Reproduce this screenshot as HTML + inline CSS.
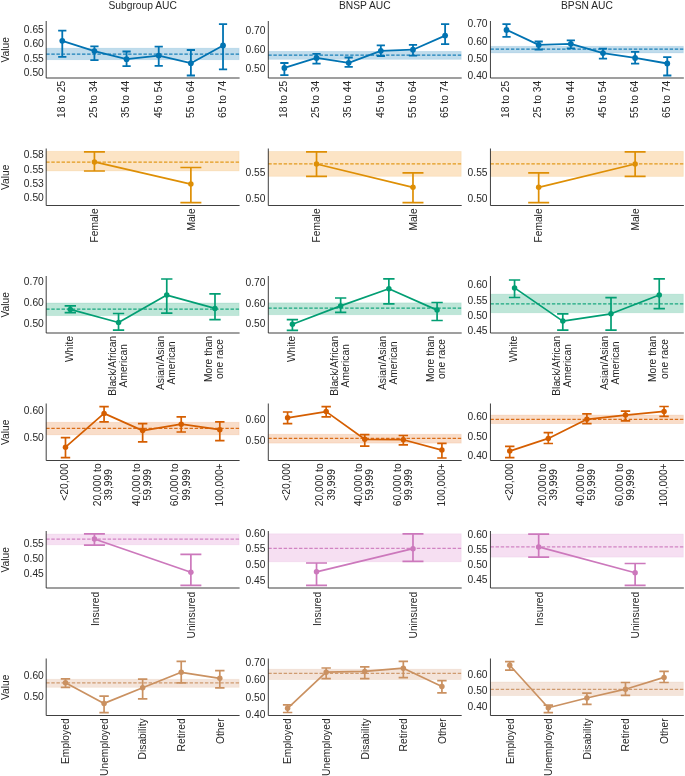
<!DOCTYPE html>
<html><head><meta charset="utf-8"><style>
html,body{margin:0;padding:0;background:#fff;}
svg{display:block;will-change:transform;}
.t{font-family:"Liberation Sans",sans-serif;font-size:10.25px;fill:#262626;}
</style></head><body>
<svg width="685" height="776" viewBox="0 0 685 776">
<text transform="translate(142.65,8.8)" text-anchor="middle" class="t">Subgroup AUC</text>
<text transform="translate(364.75,8.8)" text-anchor="middle" class="t">BNSP AUC</text>
<text transform="translate(586.9,8.8)" text-anchor="middle" class="t">BPSN AUC</text>
<text transform="translate(9,49.75) rotate(-90)" text-anchor="middle" class="t">Value</text>
<rect x="46.2" y="48.2" width="192.9" height="11.5" fill="rgb(192,220,236)" stroke="#0173b2" stroke-opacity="0.12" stroke-width="0.9"/>
<line x1="46.2" y1="54.05" x2="239.1" y2="54.05" stroke="#0173b2" stroke-opacity="0.88" stroke-width="1.25" stroke-dasharray="3.42 1.7"/>
<path d="M62.28 30.6V56.9M59.06 30.6H65.49M59.06 56.9H65.49M94.42 46.4V60.1M91.21 46.4H97.64M91.21 60.1H97.64M126.58 51.5V66.1M123.36 51.5H129.79M123.36 66.1H129.79M158.72 46.6V65.9M155.51 46.6H161.94M155.51 65.9H161.94M190.88 50V75.5M187.66 50H194.09M187.66 75.5H194.09M223.02 24.2V69.3M219.81 24.2H226.24M219.81 69.3H226.24" stroke="#0173b2" stroke-width="1.8" fill="none" stroke-linecap="square"/>
<polyline points="62.28,40.8 94.42,51.1 126.58,59.2 158.72,55.6 190.88,63.2 223.02,45.5" stroke="#0173b2" stroke-width="1.8" fill="none" stroke-linejoin="round"/>
<circle cx="62.28" cy="40.8" r="2.9" fill="#0173b2"/>
<circle cx="94.42" cy="51.1" r="2.9" fill="#0173b2"/>
<circle cx="126.58" cy="59.2" r="2.9" fill="#0173b2"/>
<circle cx="158.72" cy="55.6" r="2.9" fill="#0173b2"/>
<circle cx="190.88" cy="63.2" r="2.9" fill="#0173b2"/>
<circle cx="223.02" cy="45.5" r="2.9" fill="#0173b2"/>
<path d="M46.2 21.5V78H239.1" stroke="#262626" stroke-width="0.88" fill="none" stroke-linecap="square"/>
<text transform="translate(43.8,32.5)" text-anchor="end" class="t">0.65</text>
<text transform="translate(43.8,47)" text-anchor="end" class="t">0.60</text>
<text transform="translate(43.8,61.7)" text-anchor="end" class="t">0.55</text>
<text transform="translate(43.8,76.4)" text-anchor="end" class="t">0.50</text>
<text transform="translate(65.08,99.42) rotate(-90)" text-anchor="middle" class="t">18 to 25</text>
<text transform="translate(97.22,99.42) rotate(-90)" text-anchor="middle" class="t">25 to 34</text>
<text transform="translate(129.38,99.42) rotate(-90)" text-anchor="middle" class="t">35 to 44</text>
<text transform="translate(161.53,99.42) rotate(-90)" text-anchor="middle" class="t">45 to 54</text>
<text transform="translate(193.68,99.42) rotate(-90)" text-anchor="middle" class="t">55 to 64</text>
<text transform="translate(225.82,99.42) rotate(-90)" text-anchor="middle" class="t">65 to 74</text>
<rect x="268.3" y="51.4" width="192.9" height="7.9" fill="rgb(192,220,236)" stroke="#0173b2" stroke-opacity="0.12" stroke-width="0.9"/>
<line x1="268.3" y1="55" x2="461.2" y2="55" stroke="#0173b2" stroke-opacity="0.88" stroke-width="1.25" stroke-dasharray="3.42 1.7"/>
<path d="M284.38 63V75.2M281.16 63H287.59M281.16 75.2H287.59M316.52 53.8V63.7M313.31 53.8H319.74M313.31 63.7H319.74M348.68 57.5V66.8M345.46 57.5H351.89M345.46 66.8H351.89M380.82 45.4V56M377.61 45.4H384.04M377.61 56H384.04M412.98 44.9V55.6M409.76 44.9H416.19M409.76 55.6H416.19M445.12 24.2V44.2M441.91 24.2H448.34M441.91 44.2H448.34" stroke="#0173b2" stroke-width="1.8" fill="none" stroke-linecap="square"/>
<polyline points="284.38,67.9 316.52,57.9 348.68,62.8 380.82,50.8 412.98,49.7 445.12,35.6" stroke="#0173b2" stroke-width="1.8" fill="none" stroke-linejoin="round"/>
<circle cx="284.38" cy="67.9" r="2.9" fill="#0173b2"/>
<circle cx="316.52" cy="57.9" r="2.9" fill="#0173b2"/>
<circle cx="348.68" cy="62.8" r="2.9" fill="#0173b2"/>
<circle cx="380.82" cy="50.8" r="2.9" fill="#0173b2"/>
<circle cx="412.98" cy="49.7" r="2.9" fill="#0173b2"/>
<circle cx="445.12" cy="35.6" r="2.9" fill="#0173b2"/>
<path d="M268.3 21.5V78H461.2" stroke="#262626" stroke-width="0.88" fill="none" stroke-linecap="square"/>
<text transform="translate(265.4,34.2)" text-anchor="end" class="t">0.70</text>
<text transform="translate(265.4,52.7)" text-anchor="end" class="t">0.60</text>
<text transform="translate(265.4,71.7)" text-anchor="end" class="t">0.50</text>
<text transform="translate(287.18,99.42) rotate(-90)" text-anchor="middle" class="t">18 to 25</text>
<text transform="translate(319.32,99.42) rotate(-90)" text-anchor="middle" class="t">25 to 34</text>
<text transform="translate(351.48,99.42) rotate(-90)" text-anchor="middle" class="t">35 to 44</text>
<text transform="translate(383.62,99.42) rotate(-90)" text-anchor="middle" class="t">45 to 54</text>
<text transform="translate(415.78,99.42) rotate(-90)" text-anchor="middle" class="t">55 to 64</text>
<text transform="translate(447.93,99.42) rotate(-90)" text-anchor="middle" class="t">65 to 74</text>
<rect x="490.45" y="46.3" width="192.9" height="6.6" fill="rgb(192,220,236)" stroke="#0173b2" stroke-opacity="0.12" stroke-width="0.9"/>
<line x1="490.45" y1="49.1" x2="683.35" y2="49.1" stroke="#0173b2" stroke-opacity="0.88" stroke-width="1.25" stroke-dasharray="3.42 1.7"/>
<path d="M506.52 24.2V36.9M503.31 24.2H509.74M503.31 36.9H509.74M538.67 41.5V49.5M535.46 41.5H541.89M535.46 49.5H541.89M570.83 40.3V48.3M567.61 40.3H574.04M567.61 48.3H574.04M602.98 48.7V58.7M599.76 48.7H606.19M599.76 58.7H606.19M635.12 51.9V63.7M631.91 51.9H638.34M631.91 63.7H638.34M667.27 57.1V75.5M664.06 57.1H670.49M664.06 75.5H670.49" stroke="#0173b2" stroke-width="1.8" fill="none" stroke-linecap="square"/>
<polyline points="506.52,29.9 538.67,44.9 570.83,43.8 602.98,53.1 635.12,57.9 667.27,63.5" stroke="#0173b2" stroke-width="1.8" fill="none" stroke-linejoin="round"/>
<circle cx="506.52" cy="29.9" r="2.9" fill="#0173b2"/>
<circle cx="538.67" cy="44.9" r="2.9" fill="#0173b2"/>
<circle cx="570.83" cy="43.8" r="2.9" fill="#0173b2"/>
<circle cx="602.98" cy="53.1" r="2.9" fill="#0173b2"/>
<circle cx="635.12" cy="57.9" r="2.9" fill="#0173b2"/>
<circle cx="667.27" cy="63.5" r="2.9" fill="#0173b2"/>
<path d="M490.45 21.5V78H683.35" stroke="#262626" stroke-width="0.88" fill="none" stroke-linecap="square"/>
<text transform="translate(487.55,27.4)" text-anchor="end" class="t">0.70</text>
<text transform="translate(487.55,45.1)" text-anchor="end" class="t">0.60</text>
<text transform="translate(487.55,62.4)" text-anchor="end" class="t">0.50</text>
<text transform="translate(487.55,79.1)" text-anchor="end" class="t">0.40</text>
<text transform="translate(509.32,99.42) rotate(-90)" text-anchor="middle" class="t">18 to 25</text>
<text transform="translate(541.47,99.42) rotate(-90)" text-anchor="middle" class="t">25 to 34</text>
<text transform="translate(573.62,99.42) rotate(-90)" text-anchor="middle" class="t">35 to 44</text>
<text transform="translate(605.77,99.42) rotate(-90)" text-anchor="middle" class="t">45 to 54</text>
<text transform="translate(637.92,99.42) rotate(-90)" text-anchor="middle" class="t">55 to 64</text>
<text transform="translate(670.07,99.42) rotate(-90)" text-anchor="middle" class="t">65 to 74</text>
<text transform="translate(9,177.25) rotate(-90)" text-anchor="middle" class="t">Value</text>
<rect x="46.2" y="151.3" width="192.9" height="19.6" fill="rgb(252,228,197)" stroke="#de8f05" stroke-opacity="0.12" stroke-width="0.9"/>
<line x1="46.2" y1="162.2" x2="239.1" y2="162.2" stroke="#de8f05" stroke-opacity="0.88" stroke-width="1.25" stroke-dasharray="3.42 1.7"/>
<path d="M94.43 151.9V171M84.78 151.9H104.07M84.78 171H104.07M190.88 167.5V202.7M181.23 167.5H200.52M181.23 202.7H200.52" stroke="#de8f05" stroke-width="1.7" fill="none" stroke-linecap="square"/>
<polyline points="94.43,161.9 190.88,184.1" stroke="#de8f05" stroke-width="1.7" fill="none" stroke-linejoin="round"/>
<circle cx="94.43" cy="161.9" r="2.75" fill="#de8f05"/>
<circle cx="190.88" cy="184.1" r="2.75" fill="#de8f05"/>
<path d="M46.2 149V205.5H239.1" stroke="#262626" stroke-width="0.88" fill="none" stroke-linecap="square"/>
<text transform="translate(43.8,158.2)" text-anchor="end" class="t">0.58</text>
<text transform="translate(43.8,172.9)" text-anchor="end" class="t">0.55</text>
<text transform="translate(43.8,186.9)" text-anchor="end" class="t">0.53</text>
<text transform="translate(43.8,201.3)" text-anchor="end" class="t">0.50</text>
<text transform="translate(98.23,225.49) rotate(-90)" text-anchor="middle" class="t">Female</text>
<text transform="translate(194.68,219.51) rotate(-90)" text-anchor="middle" class="t">Male</text>
<rect x="268.3" y="151.5" width="192.9" height="24.8" fill="rgb(252,228,197)" stroke="#de8f05" stroke-opacity="0.12" stroke-width="0.9"/>
<line x1="268.3" y1="163.8" x2="461.2" y2="163.8" stroke="#de8f05" stroke-opacity="0.88" stroke-width="1.25" stroke-dasharray="3.42 1.7"/>
<path d="M316.53 151.9V176.3M306.88 151.9H326.17M306.88 176.3H326.17M412.98 172.8V202.7M403.33 172.8H422.62M403.33 202.7H422.62" stroke="#de8f05" stroke-width="1.7" fill="none" stroke-linecap="square"/>
<polyline points="316.53,164 412.98,187.3" stroke="#de8f05" stroke-width="1.7" fill="none" stroke-linejoin="round"/>
<circle cx="316.53" cy="164" r="2.75" fill="#de8f05"/>
<circle cx="412.98" cy="187.3" r="2.75" fill="#de8f05"/>
<path d="M268.3 149V205.5H461.2" stroke="#262626" stroke-width="0.88" fill="none" stroke-linecap="square"/>
<text transform="translate(265.4,176.1)" text-anchor="end" class="t">0.55</text>
<text transform="translate(265.4,201.8)" text-anchor="end" class="t">0.50</text>
<text transform="translate(320.33,225.49) rotate(-90)" text-anchor="middle" class="t">Female</text>
<text transform="translate(416.78,219.51) rotate(-90)" text-anchor="middle" class="t">Male</text>
<rect x="490.45" y="151.4" width="192.9" height="25" fill="rgb(252,228,197)" stroke="#de8f05" stroke-opacity="0.12" stroke-width="0.9"/>
<line x1="490.45" y1="163.8" x2="683.35" y2="163.8" stroke="#de8f05" stroke-opacity="0.88" stroke-width="1.25" stroke-dasharray="3.42 1.7"/>
<path d="M538.67 172.8V202.7M529.03 172.8H548.32M529.03 202.7H548.32M635.12 151.9V176.3M625.48 151.9H644.77M625.48 176.3H644.77" stroke="#de8f05" stroke-width="1.7" fill="none" stroke-linecap="square"/>
<polyline points="538.67,187.3 635.12,164" stroke="#de8f05" stroke-width="1.7" fill="none" stroke-linejoin="round"/>
<circle cx="538.67" cy="187.3" r="2.75" fill="#de8f05"/>
<circle cx="635.12" cy="164" r="2.75" fill="#de8f05"/>
<path d="M490.45 149V205.5H683.35" stroke="#262626" stroke-width="0.88" fill="none" stroke-linecap="square"/>
<text transform="translate(487.55,176.1)" text-anchor="end" class="t">0.55</text>
<text transform="translate(487.55,201.8)" text-anchor="end" class="t">0.50</text>
<text transform="translate(542.47,225.49) rotate(-90)" text-anchor="middle" class="t">Female</text>
<text transform="translate(638.92,219.51) rotate(-90)" text-anchor="middle" class="t">Male</text>
<text transform="translate(9,304.75) rotate(-90)" text-anchor="middle" class="t">Value</text>
<rect x="46.2" y="303" width="192.9" height="12.6" fill="rgb(190,230,216)" stroke="#029e73" stroke-opacity="0.12" stroke-width="0.9"/>
<line x1="46.2" y1="309.2" x2="239.1" y2="309.2" stroke="#029e73" stroke-opacity="0.88" stroke-width="1.25" stroke-dasharray="3.42 1.7"/>
<path d="M70.31 305.9V312.6M65.49 305.9H75.14M65.49 312.6H75.14M118.54 313.5V330.1M113.72 313.5H123.36M113.72 330.1H123.36M166.76 279V313.1M161.94 279H171.58M161.94 313.1H171.58M214.99 293.9V319.7M210.17 293.9H219.81M210.17 319.7H219.81" stroke="#029e73" stroke-width="1.7" fill="none" stroke-linecap="square"/>
<polyline points="70.31,309.4 118.54,322.5 166.76,295.1 214.99,308.4" stroke="#029e73" stroke-width="1.7" fill="none" stroke-linejoin="round"/>
<circle cx="70.31" cy="309.4" r="2.75" fill="#029e73"/>
<circle cx="118.54" cy="322.5" r="2.75" fill="#029e73"/>
<circle cx="166.76" cy="295.1" r="2.75" fill="#029e73"/>
<circle cx="214.99" cy="308.4" r="2.75" fill="#029e73"/>
<path d="M46.2 276.5V333H239.1" stroke="#262626" stroke-width="0.88" fill="none" stroke-linecap="square"/>
<text transform="translate(43.8,284.9)" text-anchor="end" class="t">0.70</text>
<text transform="translate(43.8,306.1)" text-anchor="end" class="t">0.60</text>
<text transform="translate(43.8,327.1)" text-anchor="end" class="t">0.50</text>
<text transform="translate(73.11,349) rotate(-90)" text-anchor="middle" class="t">White</text>
<text transform="translate(115.74,365.81) rotate(-90)" text-anchor="middle" class="t">Black/African</text>
<text transform="translate(126.94,365.81) rotate(-90)" text-anchor="middle" class="t">American</text>
<text transform="translate(163.96,362.96) rotate(-90)" text-anchor="middle" class="t">Asian/Asian</text>
<text transform="translate(175.16,362.96) rotate(-90)" text-anchor="middle" class="t">American</text>
<text transform="translate(212.19,358.98) rotate(-90)" text-anchor="middle" class="t">More than</text>
<text transform="translate(223.39,358.98) rotate(-90)" text-anchor="middle" class="t">one race</text>
<rect x="268.3" y="302.85" width="192.9" height="11.85" fill="rgb(190,230,216)" stroke="#029e73" stroke-opacity="0.12" stroke-width="0.9"/>
<line x1="268.3" y1="308" x2="461.2" y2="308" stroke="#029e73" stroke-opacity="0.88" stroke-width="1.25" stroke-dasharray="3.42 1.7"/>
<path d="M292.41 319.6V330.4M287.59 319.6H297.24M287.59 330.4H297.24M340.64 298V312.4M335.82 298H345.46M335.82 312.4H345.46M388.86 278.8V303.8M384.04 278.8H393.69M384.04 303.8H393.69M437.09 302.5V320.5M432.26 302.5H441.91M432.26 320.5H441.91" stroke="#029e73" stroke-width="1.7" fill="none" stroke-linecap="square"/>
<polyline points="292.41,324.3 340.64,305.9 388.86,288.8 437.09,310.1" stroke="#029e73" stroke-width="1.7" fill="none" stroke-linejoin="round"/>
<circle cx="292.41" cy="324.3" r="2.75" fill="#029e73"/>
<circle cx="340.64" cy="305.9" r="2.75" fill="#029e73"/>
<circle cx="388.86" cy="288.8" r="2.75" fill="#029e73"/>
<circle cx="437.09" cy="310.1" r="2.75" fill="#029e73"/>
<path d="M268.3 276.5V333H461.2" stroke="#262626" stroke-width="0.88" fill="none" stroke-linecap="square"/>
<text transform="translate(265.4,285.9)" text-anchor="end" class="t">0.70</text>
<text transform="translate(265.4,306.8)" text-anchor="end" class="t">0.60</text>
<text transform="translate(265.4,327.4)" text-anchor="end" class="t">0.50</text>
<text transform="translate(295.21,349) rotate(-90)" text-anchor="middle" class="t">White</text>
<text transform="translate(337.84,365.81) rotate(-90)" text-anchor="middle" class="t">Black/African</text>
<text transform="translate(349.04,365.81) rotate(-90)" text-anchor="middle" class="t">American</text>
<text transform="translate(386.06,362.96) rotate(-90)" text-anchor="middle" class="t">Asian/Asian</text>
<text transform="translate(397.26,362.96) rotate(-90)" text-anchor="middle" class="t">American</text>
<text transform="translate(434.29,358.98) rotate(-90)" text-anchor="middle" class="t">More than</text>
<text transform="translate(445.49,358.98) rotate(-90)" text-anchor="middle" class="t">one race</text>
<rect x="490.45" y="294.15" width="192.9" height="18.6" fill="rgb(190,230,216)" stroke="#029e73" stroke-opacity="0.12" stroke-width="0.9"/>
<line x1="490.45" y1="303.75" x2="683.35" y2="303.75" stroke="#029e73" stroke-opacity="0.88" stroke-width="1.25" stroke-dasharray="3.42 1.7"/>
<path d="M514.56 280V297.5M509.74 280H519.38M509.74 297.5H519.38M562.79 313.8V330.2M557.97 313.8H567.61M557.97 330.2H567.61M611.01 297.7V330.2M606.19 297.7H615.84M606.19 330.2H615.84M659.24 278.8V308.7M654.41 278.8H664.06M654.41 308.7H664.06" stroke="#029e73" stroke-width="1.7" fill="none" stroke-linecap="square"/>
<polyline points="514.56,287.9 562.79,321.1 611.01,313.8 659.24,295" stroke="#029e73" stroke-width="1.7" fill="none" stroke-linejoin="round"/>
<circle cx="514.56" cy="287.9" r="2.75" fill="#029e73"/>
<circle cx="562.79" cy="321.1" r="2.75" fill="#029e73"/>
<circle cx="611.01" cy="313.8" r="2.75" fill="#029e73"/>
<circle cx="659.24" cy="295" r="2.75" fill="#029e73"/>
<path d="M490.45 276.5V333H683.35" stroke="#262626" stroke-width="0.88" fill="none" stroke-linecap="square"/>
<text transform="translate(487.55,288.4)" text-anchor="end" class="t">0.60</text>
<text transform="translate(487.55,303.8)" text-anchor="end" class="t">0.55</text>
<text transform="translate(487.55,318.7)" text-anchor="end" class="t">0.50</text>
<text transform="translate(487.55,333.9)" text-anchor="end" class="t">0.45</text>
<text transform="translate(517.36,349) rotate(-90)" text-anchor="middle" class="t">White</text>
<text transform="translate(559.99,365.81) rotate(-90)" text-anchor="middle" class="t">Black/African</text>
<text transform="translate(571.19,365.81) rotate(-90)" text-anchor="middle" class="t">American</text>
<text transform="translate(608.21,362.96) rotate(-90)" text-anchor="middle" class="t">Asian/Asian</text>
<text transform="translate(619.41,362.96) rotate(-90)" text-anchor="middle" class="t">American</text>
<text transform="translate(656.44,358.98) rotate(-90)" text-anchor="middle" class="t">More than</text>
<text transform="translate(667.64,358.98) rotate(-90)" text-anchor="middle" class="t">one race</text>
<text transform="translate(9,432.25) rotate(-90)" text-anchor="middle" class="t">Value</text>
<rect x="46.2" y="422.3" width="192.9" height="12.5" fill="rgb(249,221,201)" stroke="#d55e00" stroke-opacity="0.12" stroke-width="0.9"/>
<line x1="46.2" y1="428.35" x2="239.1" y2="428.35" stroke="#d55e00" stroke-opacity="0.88" stroke-width="1.25" stroke-dasharray="3.42 1.7"/>
<path d="M65.49 437.6V457.7M61.63 437.6H69.35M61.63 457.7H69.35M104.07 406.7V421.8M100.21 406.7H107.93M100.21 421.8H107.93M142.65 423.6V441.9M138.79 423.6H146.51M138.79 441.9H146.51M181.23 416.9V432M177.37 416.9H185.09M177.37 432H185.09M219.81 421.8V440.6M215.95 421.8H223.67M215.95 440.6H223.67" stroke="#d55e00" stroke-width="1.7" fill="none" stroke-linecap="square"/>
<polyline points="65.49,447.2 104.07,413.4 142.65,430.6 181.23,424.2 219.81,429.7" stroke="#d55e00" stroke-width="1.7" fill="none" stroke-linejoin="round"/>
<circle cx="65.49" cy="447.2" r="2.75" fill="#d55e00"/>
<circle cx="104.07" cy="413.4" r="2.75" fill="#d55e00"/>
<circle cx="142.65" cy="430.6" r="2.75" fill="#d55e00"/>
<circle cx="181.23" cy="424.2" r="2.75" fill="#d55e00"/>
<circle cx="219.81" cy="429.7" r="2.75" fill="#d55e00"/>
<path d="M46.2 404V460.5H239.1" stroke="#262626" stroke-width="0.88" fill="none" stroke-linecap="square"/>
<text transform="translate(43.8,414.4)" text-anchor="end" class="t">0.60</text>
<text transform="translate(43.8,441.1)" text-anchor="end" class="t">0.50</text>
<text transform="translate(68.29,482.07) rotate(-90)" text-anchor="middle" class="t">&lt;20,000</text>
<text transform="translate(101.27,484.77) rotate(-90)" text-anchor="middle" class="t">20,000 to</text>
<text transform="translate(112.47,484.77) rotate(-90)" text-anchor="middle" class="t">39,999</text>
<text transform="translate(139.85,484.77) rotate(-90)" text-anchor="middle" class="t">40,000 to</text>
<text transform="translate(151.05,484.77) rotate(-90)" text-anchor="middle" class="t">59,999</text>
<text transform="translate(178.43,484.77) rotate(-90)" text-anchor="middle" class="t">60,000 to</text>
<text transform="translate(189.63,484.77) rotate(-90)" text-anchor="middle" class="t">99,999</text>
<text transform="translate(222.61,484.92) rotate(-90)" text-anchor="middle" class="t">100,000+</text>
<rect x="268.3" y="434.3" width="192.9" height="8.8" fill="rgb(249,221,201)" stroke="#d55e00" stroke-opacity="0.12" stroke-width="0.9"/>
<line x1="268.3" y1="438.35" x2="461.2" y2="438.35" stroke="#d55e00" stroke-opacity="0.88" stroke-width="1.25" stroke-dasharray="3.42 1.7"/>
<path d="M287.59 412V423.6M283.73 412H291.45M283.73 423.6H291.45M326.17 406.7V416.9M322.31 406.7H330.03M322.31 416.9H330.03M364.75 434.6V446.1M360.89 434.6H368.61M360.89 446.1H368.61M403.33 435.5V444.8M399.47 435.5H407.19M399.47 444.8H407.19M441.91 443.4V458M438.05 443.4H445.77M438.05 458H445.77" stroke="#d55e00" stroke-width="1.7" fill="none" stroke-linecap="square"/>
<polyline points="287.59,417.8 326.17,411.6 364.75,439.3 403.33,439.7 441.91,450.1" stroke="#d55e00" stroke-width="1.7" fill="none" stroke-linejoin="round"/>
<circle cx="287.59" cy="417.8" r="2.75" fill="#d55e00"/>
<circle cx="326.17" cy="411.6" r="2.75" fill="#d55e00"/>
<circle cx="364.75" cy="439.3" r="2.75" fill="#d55e00"/>
<circle cx="403.33" cy="439.7" r="2.75" fill="#d55e00"/>
<circle cx="441.91" cy="450.1" r="2.75" fill="#d55e00"/>
<path d="M268.3 404V460.5H461.2" stroke="#262626" stroke-width="0.88" fill="none" stroke-linecap="square"/>
<text transform="translate(265.4,423)" text-anchor="end" class="t">0.60</text>
<text transform="translate(265.4,444)" text-anchor="end" class="t">0.50</text>
<text transform="translate(290.39,482.07) rotate(-90)" text-anchor="middle" class="t">&lt;20,000</text>
<text transform="translate(323.37,484.77) rotate(-90)" text-anchor="middle" class="t">20,000 to</text>
<text transform="translate(334.57,484.77) rotate(-90)" text-anchor="middle" class="t">39,999</text>
<text transform="translate(361.95,484.77) rotate(-90)" text-anchor="middle" class="t">40,000 to</text>
<text transform="translate(373.15,484.77) rotate(-90)" text-anchor="middle" class="t">59,999</text>
<text transform="translate(400.53,484.77) rotate(-90)" text-anchor="middle" class="t">60,000 to</text>
<text transform="translate(411.73,484.77) rotate(-90)" text-anchor="middle" class="t">99,999</text>
<text transform="translate(444.71,484.92) rotate(-90)" text-anchor="middle" class="t">100,000+</text>
<rect x="490.45" y="415.1" width="192.9" height="8.4" fill="rgb(249,221,201)" stroke="#d55e00" stroke-opacity="0.12" stroke-width="0.9"/>
<line x1="490.45" y1="419.25" x2="683.35" y2="419.25" stroke="#d55e00" stroke-opacity="0.88" stroke-width="1.25" stroke-dasharray="3.42 1.7"/>
<path d="M509.74 446.3V457.7M505.88 446.3H513.6M505.88 457.7H513.6M548.32 432.7V443.5M544.46 432.7H552.18M544.46 443.5H552.18M586.9 413.8V423.6M583.04 413.8H590.76M583.04 423.6H590.76M625.48 411.1V420.9M621.62 411.1H629.34M621.62 420.9H629.34M664.06 406.5V416.4M660.2 406.5H667.92M660.2 416.4H667.92" stroke="#d55e00" stroke-width="1.7" fill="none" stroke-linecap="square"/>
<polyline points="509.74,451.1 548.32,438.4 586.9,419.3 625.48,415.1 664.06,411.4" stroke="#d55e00" stroke-width="1.7" fill="none" stroke-linejoin="round"/>
<circle cx="509.74" cy="451.1" r="2.75" fill="#d55e00"/>
<circle cx="548.32" cy="438.4" r="2.75" fill="#d55e00"/>
<circle cx="586.9" cy="419.3" r="2.75" fill="#d55e00"/>
<circle cx="625.48" cy="415.1" r="2.75" fill="#d55e00"/>
<circle cx="664.06" cy="411.4" r="2.75" fill="#d55e00"/>
<path d="M490.45 404V460.5H683.35" stroke="#262626" stroke-width="0.88" fill="none" stroke-linecap="square"/>
<text transform="translate(487.55,420)" text-anchor="end" class="t">0.60</text>
<text transform="translate(487.55,439.6)" text-anchor="end" class="t">0.50</text>
<text transform="translate(487.55,459.4)" text-anchor="end" class="t">0.40</text>
<text transform="translate(512.54,482.07) rotate(-90)" text-anchor="middle" class="t">&lt;20,000</text>
<text transform="translate(545.52,484.77) rotate(-90)" text-anchor="middle" class="t">20,000 to</text>
<text transform="translate(556.72,484.77) rotate(-90)" text-anchor="middle" class="t">39,999</text>
<text transform="translate(584.1,484.77) rotate(-90)" text-anchor="middle" class="t">40,000 to</text>
<text transform="translate(595.3,484.77) rotate(-90)" text-anchor="middle" class="t">59,999</text>
<text transform="translate(622.68,484.77) rotate(-90)" text-anchor="middle" class="t">60,000 to</text>
<text transform="translate(633.88,484.77) rotate(-90)" text-anchor="middle" class="t">99,999</text>
<text transform="translate(666.86,484.92) rotate(-90)" text-anchor="middle" class="t">100,000+</text>
<text transform="translate(9,559.75) rotate(-90)" text-anchor="middle" class="t">Value</text>
<rect x="46.2" y="534.1" width="192.9" height="10.7" fill="rgb(246,223,242)" stroke="#cc78bc" stroke-opacity="0.12" stroke-width="0.9"/>
<line x1="46.2" y1="539" x2="239.1" y2="539" stroke="#cc78bc" stroke-opacity="0.88" stroke-width="1.25" stroke-dasharray="3.42 1.7"/>
<path d="M94.43 533.8V545.1M84.78 533.8H104.07M84.78 545.1H104.07M190.88 554.4V585.4M181.23 554.4H200.52M181.23 585.4H200.52" stroke="#cc78bc" stroke-width="1.7" fill="none" stroke-linecap="square"/>
<polyline points="94.43,539 190.88,572.3" stroke="#cc78bc" stroke-width="1.7" fill="none" stroke-linejoin="round"/>
<circle cx="94.43" cy="539" r="2.75" fill="#cc78bc"/>
<circle cx="190.88" cy="572.3" r="2.75" fill="#cc78bc"/>
<path d="M46.2 531.5V588H239.1" stroke="#262626" stroke-width="0.88" fill="none" stroke-linecap="square"/>
<text transform="translate(43.8,546.5)" text-anchor="end" class="t">0.55</text>
<text transform="translate(43.8,561.8)" text-anchor="end" class="t">0.50</text>
<text transform="translate(43.8,576.8)" text-anchor="end" class="t">0.45</text>
<text transform="translate(98.73,608.89) rotate(-90)" text-anchor="middle" class="t">Insured</text>
<text transform="translate(195.18,615.16) rotate(-90)" text-anchor="middle" class="t">Uninsured</text>
<rect x="268.3" y="533.8" width="192.9" height="28" fill="rgb(246,223,242)" stroke="#cc78bc" stroke-opacity="0.12" stroke-width="0.9"/>
<line x1="268.3" y1="548.3" x2="461.2" y2="548.3" stroke="#cc78bc" stroke-opacity="0.88" stroke-width="1.25" stroke-dasharray="3.42 1.7"/>
<path d="M316.53 563V585.4M306.88 563H326.17M306.88 585.4H326.17M412.98 533.8V561.4M403.33 533.8H422.62M403.33 561.4H422.62" stroke="#cc78bc" stroke-width="1.7" fill="none" stroke-linecap="square"/>
<polyline points="316.53,571.8 412.98,548.7" stroke="#cc78bc" stroke-width="1.7" fill="none" stroke-linejoin="round"/>
<circle cx="316.53" cy="571.8" r="2.75" fill="#cc78bc"/>
<circle cx="412.98" cy="548.7" r="2.75" fill="#cc78bc"/>
<path d="M268.3 531.5V588H461.2" stroke="#262626" stroke-width="0.88" fill="none" stroke-linecap="square"/>
<text transform="translate(265.4,536.9)" text-anchor="end" class="t">0.60</text>
<text transform="translate(265.4,552.3)" text-anchor="end" class="t">0.55</text>
<text transform="translate(265.4,567.9)" text-anchor="end" class="t">0.50</text>
<text transform="translate(265.4,583.7)" text-anchor="end" class="t">0.45</text>
<text transform="translate(320.83,608.89) rotate(-90)" text-anchor="middle" class="t">Insured</text>
<text transform="translate(417.28,615.16) rotate(-90)" text-anchor="middle" class="t">Uninsured</text>
<rect x="490.45" y="534.1" width="192.9" height="23" fill="rgb(246,223,242)" stroke="#cc78bc" stroke-opacity="0.12" stroke-width="0.9"/>
<line x1="490.45" y1="546.9" x2="683.35" y2="546.9" stroke="#cc78bc" stroke-opacity="0.88" stroke-width="1.25" stroke-dasharray="3.42 1.7"/>
<path d="M538.67 534.1V557.1M529.03 534.1H548.32M529.03 557.1H548.32M635.12 563.5V585.4M625.48 563.5H644.77M625.48 585.4H644.77" stroke="#cc78bc" stroke-width="1.7" fill="none" stroke-linecap="square"/>
<polyline points="538.67,546.9 635.12,572.7" stroke="#cc78bc" stroke-width="1.7" fill="none" stroke-linejoin="round"/>
<circle cx="538.67" cy="546.9" r="2.75" fill="#cc78bc"/>
<circle cx="635.12" cy="572.7" r="2.75" fill="#cc78bc"/>
<path d="M490.45 531.5V588H683.35" stroke="#262626" stroke-width="0.88" fill="none" stroke-linecap="square"/>
<text transform="translate(487.55,538.1)" text-anchor="end" class="t">0.60</text>
<text transform="translate(487.55,553)" text-anchor="end" class="t">0.55</text>
<text transform="translate(487.55,567.9)" text-anchor="end" class="t">0.50</text>
<text transform="translate(487.55,583)" text-anchor="end" class="t">0.45</text>
<text transform="translate(542.97,608.89) rotate(-90)" text-anchor="middle" class="t">Insured</text>
<text transform="translate(639.42,615.16) rotate(-90)" text-anchor="middle" class="t">Uninsured</text>
<text transform="translate(9,687.25) rotate(-90)" text-anchor="middle" class="t">Value</text>
<rect x="46.2" y="679.3" width="192.9" height="8.05" fill="rgb(244,228,218)" stroke="#ca9161" stroke-opacity="0.12" stroke-width="0.9"/>
<line x1="46.2" y1="682.8" x2="239.1" y2="682.8" stroke="#ca9161" stroke-opacity="0.88" stroke-width="1.25" stroke-dasharray="3.42 1.7"/>
<path d="M65.49 678.9V687.3M61.63 678.9H69.35M61.63 687.3H69.35M104.07 696.1V712.7M100.21 696.1H107.93M100.21 712.7H107.93M142.65 679.2V698.9M138.79 679.2H146.51M138.79 698.9H146.51M181.23 661.3V682.8M177.37 661.3H185.09M177.37 682.8H185.09M219.81 670.6V687.8M215.95 670.6H223.67M215.95 687.8H223.67" stroke="#ca9161" stroke-width="1.7" fill="none" stroke-linecap="square"/>
<polyline points="65.49,682.8 104.07,703.4 142.65,687.8 181.23,672.3 219.81,678.3" stroke="#ca9161" stroke-width="1.7" fill="none" stroke-linejoin="round"/>
<circle cx="65.49" cy="682.8" r="2.75" fill="#ca9161"/>
<circle cx="104.07" cy="703.4" r="2.75" fill="#ca9161"/>
<circle cx="142.65" cy="687.8" r="2.75" fill="#ca9161"/>
<circle cx="181.23" cy="672.3" r="2.75" fill="#ca9161"/>
<circle cx="219.81" cy="678.3" r="2.75" fill="#ca9161"/>
<path d="M46.2 659V715.5H239.1" stroke="#262626" stroke-width="0.88" fill="none" stroke-linecap="square"/>
<text transform="translate(43.8,679.4)" text-anchor="end" class="t">0.60</text>
<text transform="translate(43.8,700.4)" text-anchor="end" class="t">0.50</text>
<text transform="translate(69.29,741.19) rotate(-90)" text-anchor="middle" class="t">Employed</text>
<text transform="translate(107.87,747.17) rotate(-90)" text-anchor="middle" class="t">Unemployed</text>
<text transform="translate(146.45,738.91) rotate(-90)" text-anchor="middle" class="t">Disability</text>
<text transform="translate(185.03,734.92) rotate(-90)" text-anchor="middle" class="t">Retired</text>
<text transform="translate(223.61,731.22) rotate(-90)" text-anchor="middle" class="t">Other</text>
<rect x="268.3" y="669.25" width="192.9" height="10.25" fill="rgb(244,228,218)" stroke="#ca9161" stroke-opacity="0.12" stroke-width="0.9"/>
<line x1="268.3" y1="673.35" x2="461.2" y2="673.35" stroke="#ca9161" stroke-opacity="0.88" stroke-width="1.25" stroke-dasharray="3.42 1.7"/>
<path d="M287.59 704.8V712.5M283.73 704.8H291.45M283.73 712.5H291.45M326.17 668V678.6M322.31 668H330.03M322.31 678.6H330.03M364.75 666.8V678.6M360.89 666.8H368.61M360.89 678.6H368.61M403.33 661.3V677.7M399.47 661.3H407.19M399.47 677.7H407.19M441.91 680.7V692.9M438.05 680.7H445.77M438.05 692.9H445.77" stroke="#ca9161" stroke-width="1.7" fill="none" stroke-linecap="square"/>
<polyline points="287.59,708.3 326.17,672.2 364.75,671.4 403.33,668.2 441.91,686.5" stroke="#ca9161" stroke-width="1.7" fill="none" stroke-linejoin="round"/>
<circle cx="287.59" cy="708.3" r="2.75" fill="#ca9161"/>
<circle cx="326.17" cy="672.2" r="2.75" fill="#ca9161"/>
<circle cx="364.75" cy="671.4" r="2.75" fill="#ca9161"/>
<circle cx="403.33" cy="668.2" r="2.75" fill="#ca9161"/>
<circle cx="441.91" cy="686.5" r="2.75" fill="#ca9161"/>
<path d="M268.3 659V715.5H461.2" stroke="#262626" stroke-width="0.88" fill="none" stroke-linecap="square"/>
<text transform="translate(265.4,665.9)" text-anchor="end" class="t">0.70</text>
<text transform="translate(265.4,683.3)" text-anchor="end" class="t">0.60</text>
<text transform="translate(265.4,700.8)" text-anchor="end" class="t">0.50</text>
<text transform="translate(265.4,718.3)" text-anchor="end" class="t">0.40</text>
<text transform="translate(291.39,741.19) rotate(-90)" text-anchor="middle" class="t">Employed</text>
<text transform="translate(329.97,747.17) rotate(-90)" text-anchor="middle" class="t">Unemployed</text>
<text transform="translate(368.55,738.91) rotate(-90)" text-anchor="middle" class="t">Disability</text>
<text transform="translate(407.13,734.92) rotate(-90)" text-anchor="middle" class="t">Retired</text>
<text transform="translate(445.71,731.22) rotate(-90)" text-anchor="middle" class="t">Other</text>
<rect x="490.45" y="682" width="192.9" height="13.55" fill="rgb(244,228,218)" stroke="#ca9161" stroke-opacity="0.12" stroke-width="0.9"/>
<line x1="490.45" y1="689.3" x2="683.35" y2="689.3" stroke="#ca9161" stroke-opacity="0.88" stroke-width="1.25" stroke-dasharray="3.42 1.7"/>
<path d="M509.74 661.7V670.1M505.88 661.7H513.6M505.88 670.1H513.6M548.32 705.2V712.7M544.46 705.2H552.18M544.46 712.7H552.18M586.9 693.2V704.4M583.04 693.2H590.76M583.04 704.4H590.76M625.48 682.5V695.3M621.62 682.5H629.34M621.62 695.3H629.34M664.06 671.4V682.5M660.2 671.4H667.92M660.2 682.5H667.92" stroke="#ca9161" stroke-width="1.7" fill="none" stroke-linecap="square"/>
<polyline points="509.74,665.2 548.32,707.8 586.9,698 625.48,689.2 664.06,677.4" stroke="#ca9161" stroke-width="1.7" fill="none" stroke-linejoin="round"/>
<circle cx="509.74" cy="665.2" r="2.75" fill="#ca9161"/>
<circle cx="548.32" cy="707.8" r="2.75" fill="#ca9161"/>
<circle cx="586.9" cy="698" r="2.75" fill="#ca9161"/>
<circle cx="625.48" cy="689.2" r="2.75" fill="#ca9161"/>
<circle cx="664.06" cy="677.4" r="2.75" fill="#ca9161"/>
<path d="M490.45 659V715.5H683.35" stroke="#262626" stroke-width="0.88" fill="none" stroke-linecap="square"/>
<text transform="translate(487.55,678)" text-anchor="end" class="t">0.60</text>
<text transform="translate(487.55,694)" text-anchor="end" class="t">0.50</text>
<text transform="translate(487.55,710.1)" text-anchor="end" class="t">0.40</text>
<text transform="translate(513.54,741.19) rotate(-90)" text-anchor="middle" class="t">Employed</text>
<text transform="translate(552.12,747.17) rotate(-90)" text-anchor="middle" class="t">Unemployed</text>
<text transform="translate(590.7,738.91) rotate(-90)" text-anchor="middle" class="t">Disability</text>
<text transform="translate(629.28,734.92) rotate(-90)" text-anchor="middle" class="t">Retired</text>
<text transform="translate(667.86,731.22) rotate(-90)" text-anchor="middle" class="t">Other</text>
</svg>
</body></html>
